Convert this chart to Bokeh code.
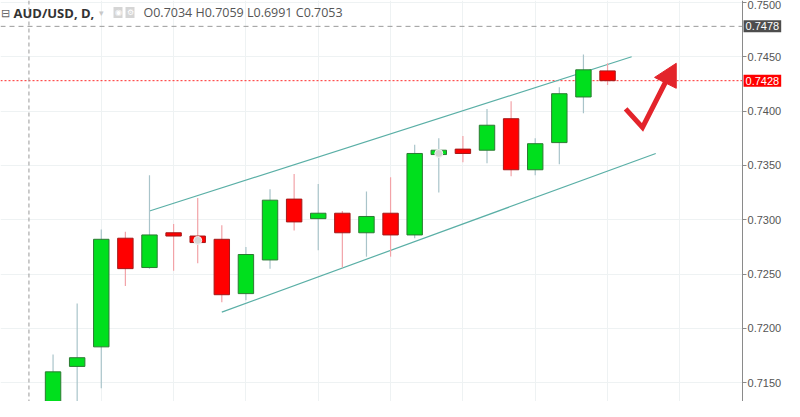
from bokeh.plotting import figure
from bokeh.models import (Range1d, FixedTicker, NumeralTickFormatter, Span, Label, ColumnDataSource,
                          BoxAnnotation)
from bokeh.embed import file_html
from bokeh.resources import INLINE

# ---- data ----
idx = list(range(24))
opens  = [0.7128, 0.7165, 0.7183, 0.7283, 0.7256, 0.7288, 0.7285, 0.7282, 0.7232, 0.7263, 0.7319, 0.7301,
          0.7306, 0.7288, 0.7306, 0.7286, 0.7360, 0.7365, 0.7364, 0.7393, 0.7346, 0.7371, 0.7413, 0.7437]
highs  = [0.7176, 0.7223, 0.7291, 0.7289, 0.7341, 0.7296, 0.7320, 0.7295, 0.7275, 0.7328, 0.7342, 0.7333,
          0.7308, 0.7326, 0.7339, 0.7369, 0.7375, 0.7377, 0.7402, 0.7409, 0.7375, 0.7422, 0.7452, 0.7444]
lows   = [0.7120, 0.7120, 0.7145, 0.7239, 0.7255, 0.7253, 0.7260, 0.7224, 0.7226, 0.7255, 0.7290, 0.7272,
          0.7256, 0.7266, 0.7266, 0.7283, 0.7325, 0.7353, 0.7352, 0.7340, 0.7341, 0.7351, 0.7398, 0.7424]
closes = [0.7160, 0.7173, 0.7282, 0.7255, 0.7286, 0.7285, 0.7279, 0.7231, 0.7268, 0.7318, 0.7298, 0.7306,
          0.7288, 0.7303, 0.7286, 0.7361, 0.7364, 0.7361, 0.7387, 0.7346, 0.7370, 0.7416, 0.7438, 0.7428]

y_ticks = [0.7150, 0.7200, 0.7250, 0.7300, 0.7350, 0.7400, 0.7450, 0.7500]
x_grid = [2, 5, 8, 11, 14, 17, 20, 23, 26]

# channel lines
upper_x = [4.0, 24.0]
upper_y = [0.7308, 0.7450]
lower_x = [7.0, 25.0]
lower_y = [0.7215, 0.7361]

# event markers
marker_x = [6, 16]
marker_y = [0.7281, 0.7361]

# hand-drawn check arrow
check_x = [23.75, 24.45, 25.55]
check_y = [0.7402, 0.7385, 0.7433]
head_x = [25.85, 24.95, 25.85]
head_y = [0.7444, 0.7431, 0.7421]

last_price = 0.7428
cross_price = 0.7478
cross_idx = -1

header_sym = "AUD/USD, D,"
header_ohlc = "O0.7034   H0.7059   L0.6991   C0.7053"

# ---- view ----
X0, X1 = -2.18, 30.34      # visible index range
AXIS_X = 28.6              # where the price scale sits
Y0, Y1 = 0.71327, 0.75018

GREEN, GREEN_EDGE, GREEN_WICK = "#00df1d", "#2c7a33", "#a9c4ca"
RED, RED_EDGE, RED_WICK = "#ff0000", "#a31919", "#f2a3a8"
up = [c >= o for o, c in zip(opens, closes)]
src = ColumnDataSource(dict(
    x=idx,
    top=[max(o, c) for o, c in zip(opens, closes)],
    bottom=[min(o, c) for o, c in zip(opens, closes)],
    high=highs, low=lows,
    fill=[GREEN if u else RED for u in up],
    edge=[GREEN_EDGE if u else RED_EDGE for u in up],
    wick=[GREEN_WICK if u else RED_WICK for u in up],
))

p = figure(width=784, height=401, output_backend="svg", toolbar_location=None,
           x_range=Range1d(X0, X1), y_range=Range1d(Y0, Y1),
           y_axis_location="right", min_border_left=0, min_border_top=0, min_border_bottom=0,
           min_border_right=0)
p.outline_line_color = None
p.background_fill_color = "white"
p.border_fill_color = "white"
p.xaxis.visible = False
p.xgrid.ticker = FixedTicker(ticks=x_grid)
p.xgrid.grid_line_color = "#eef2f3"
p.ygrid.grid_line_color = "#eef2f3"

# blank price-scale strip (covers grid lines)
p.add_layout(BoxAnnotation(left=AXIS_X, fill_color="white", fill_alpha=1, line_color=None, level="underlay"))

ax = p.yaxis[0]
ax.fixed_location = AXIS_X
ax.ticker = FixedTicker(ticks=y_ticks)
ax.formatter = NumeralTickFormatter(format="0.0000")
ax.major_label_text_font = "Liberation Sans"
ax.major_label_text_font_size = "11px"
ax.major_label_text_color = "#555555"
ax.axis_line_color = "#8a8a8a"
ax.major_tick_line_color = "#8a8a8a"
ax.major_tick_in = 0
ax.major_tick_out = 4
ax.minor_tick_line_color = None
ax.major_label_standoff = 1

# crosshair lines
p.add_layout(Span(location=cross_idx, dimension="height", line_color="#9a9a9a", line_dash="4 3", line_width=1))
p.segment(x0=[X0], x1=[AXIS_X], y0=[cross_price], y1=[cross_price], line_color="#9a9a9a",
          line_dash="5 4", line_width=1)
p.segment(x0=[X0], x1=[AXIS_X], y0=[last_price], y1=[last_price], line_color="#ff2a2a",
          line_dash="2 2", line_width=1)

# channel
p.line(upper_x, upper_y, line_color="#5aafa6", line_width=1.2)
p.line(lower_x, lower_y, line_color="#5aafa6", line_width=1.2)

# candles
p.segment(x0="x", x1="x", y0="low", y1="high", line_color="wick", line_width=1.2, source=src)
p.vbar(x="x", width=0.64, top="top", bottom="bottom", fill_color="fill", line_color="edge",
       line_width=1, source=src)
p.scatter(marker_x, marker_y, size=8, fill_color="#d6d6d6", line_color="#f4f4f4", line_width=1)

# check arrow
p.line(check_x, check_y, line_color="#e3242b", line_width=5, line_join="miter")
p.patch(head_x, head_y, fill_color="#e3242b", line_color="#e3242b", line_width=1)

# price boxes on the scale
for price, bg in [(cross_price, "#4d4d4d"), (last_price, "#ff0000")]:
    p.add_layout(Label(x=AXIS_X, y=price, x_offset=1, text="%.4f" % price, text_color="white",
                       text_font="Liberation Sans", text_font_size="11px", text_baseline="middle",
                       background_fill_color=bg, padding=2))

# header
HY = 389
p.add_layout(Label(x=0, y=HY, x_units="screen", y_units="screen", text="⊟", text_color="#666666",
                   text_font_size="11px", text_baseline="middle"))
p.add_layout(Label(x=13, y=HY, x_units="screen", y_units="screen", text=header_sym, text_color="#333333",
                   text_font="Open Sans", text_font_size="13px", text_font_style="bold", text_baseline="middle"))
p.add_layout(Label(x=98, y=HY, x_units="screen", y_units="screen", text="▾", text_color="#c8c8c8",
                   text_font_size="9px", text_baseline="middle"))
p.add_layout(Label(x=113, y=HY, x_units="screen", y_units="screen", text="◉", text_color="white",
                   text_font_size="8px", text_baseline="middle", background_fill_color="#d5d5d5", padding=1))
p.add_layout(Label(x=125, y=HY, x_units="screen", y_units="screen", text="⚙", text_color="white",
                   text_font_size="8px", text_baseline="middle", background_fill_color="#d5d5d5", padding=1))
p.add_layout(Label(x=143, y=HY, x_units="screen", y_units="screen", text=header_ohlc, text_color="#555555",
                   text_font="Open Sans", text_font_size="12.5px", text_baseline="middle"))

open("out.html", "w").write(file_html(p, INLINE))
